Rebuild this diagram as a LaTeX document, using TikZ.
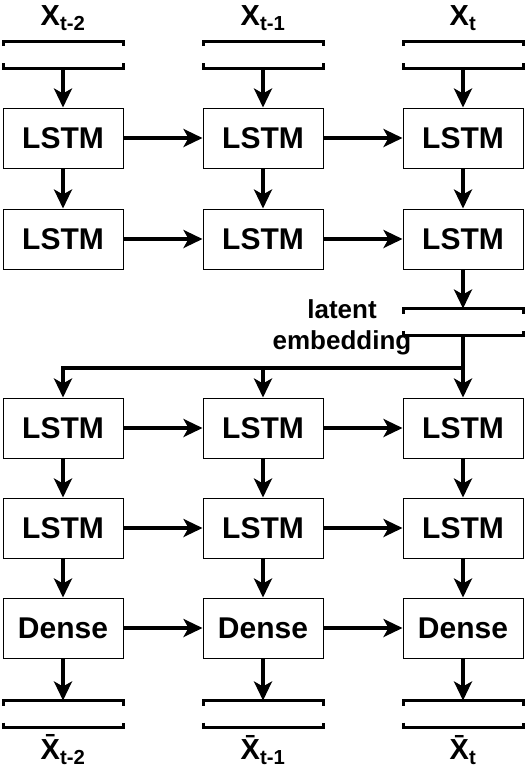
\documentclass[tikz,border=0pt]{standalone}
\usepackage{fontspec}
\setmainfont{Liberation Sans}
\usetikzlibrary{arrows.meta, calc, positioning}
\tikzset{
	cell/.style={
		rectangle,
		draw=black, line width=1pt,
		fill=white,
		minimum width=120pt, minimum height=60pt,
		inner sep=0pt,
		font=\fontsize{30}{36}\selectfont\bfseries
	},
	vec/.style={minimum width=120pt, minimum height=27pt, inner sep=0pt, outer sep=0pt},
	bracket/.style={line width=3pt, line join=miter},
	vlabel/.style={inner sep=0pt, font=\fontsize{29}{34}\selectfont\bfseries},
	latlabel/.style={inner sep=0pt, align=center, font=\fontsize{26}{31}\selectfont\bfseries},
	flow/.style={line width=3.4pt, -{Stealth[length=19pt,width=18pt,inset=5pt]}}
}

\begin{document}
\begin{tikzpicture}[x=1pt,y=-1pt]
	\useasboundingbox (0,0) rectangle (527,769);

	% one column per time step
	\foreach \c/\x/\s in {1/63/{t-2}, 2/263/{t-1}, 3/463/{t}} {
		\node[vlabel]	(xin\c)		at (\x,18)	{X\textsubscript{\s}};
		\node[vec]		(in\c)		at (\x,54.5)	{};
		\node[cell]		(encA\c)	at (\x,138)	{LSTM};
		\node[cell]		(encB\c)	at (\x,239)	{LSTM};
		\node[cell]		(decA\c)	at (\x,428)	{LSTM};
		\node[cell]		(decB\c)	at (\x,528)	{LSTM};
		\node[cell]		(dense\c)	at (\x,628)	{Dense};
		\node[vec]		(out\c)		at (\x,714)	{};
		\node[vlabel]	(xout\c)	at (\x,750)	{\={X}\textsubscript{\s}};
	}

	% latent vector
	\node[vec]		(lat)		at (463,322)	{};
	\node[latlabel]	(lattext)	at (342,327)	{latent\\embedding};
	\coordinate		(split)		at (463,368);

	% vectors drawn as two brackets
	\foreach \v in {in1,in2,in3,lat,out1,out2,out3} {
		\draw[bracket] ([yshift=-5pt]\v.north west) -- (\v.north west) -- (\v.north east) -- ([yshift=-5pt]\v.north east);
		\draw[bracket] ([yshift=5pt]\v.south west) -- (\v.south west) -- (\v.south east) -- ([yshift=5pt]\v.south east);
	}

	% vertical flow
	\foreach \c in {1,2,3} {
		\draw[flow] (in\c)		-- (encA\c);
		\draw[flow] (encA\c)	-- (encB\c);
		\draw[flow] (decA\c)	-- (decB\c);
		\draw[flow] (decB\c)	-- (dense\c);
		\draw[flow] (dense\c)	-- (out\c);
	}

	% horizontal flow
	\foreach \r in {encA,encB,decA,decB,dense} {
		\draw[flow] (\r1) -- (\r2);
		\draw[flow] (\r2) -- (\r3);
	}

	% through the latent embedding
	\draw[flow] (encB3) -- (lat);
	\draw[flow] (lat) -- (decA3);
	\draw[flow] (split) -| (decA1.north);
	\draw[flow] (split) -| (decA2.north);
\end{tikzpicture}
\end{document}
